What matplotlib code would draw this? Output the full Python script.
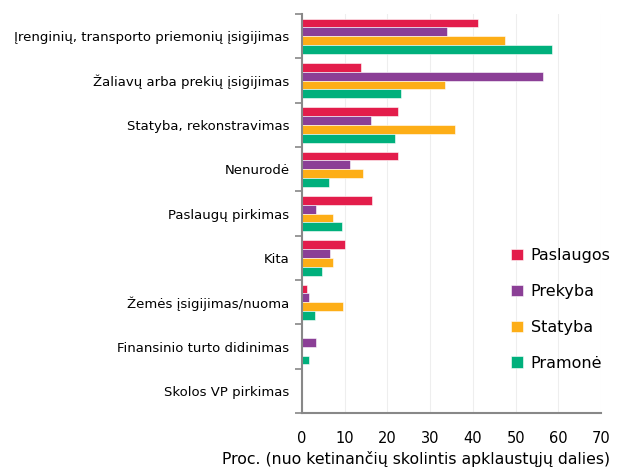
import matplotlib.pyplot as plt
import numpy as np

categories = ["Įrenginių, transporto priemonių įsigijimas",
              "Žaliavų arba prekių įsigijimas",
              "Statyba, rekonstravimas",
              "Nenurodė",
              "Paslaugų pirkimas",
              "Kita",
              "Žemės įsigijimas/nuoma",
              "Finansinio turto didinimas",
              "Skolos VP pirkimas"]
paslaugos = [41.3, 13.8, 22.5, 22.5, 16.3, 10.0, 1.2, 0, 0]
prekyba = [33.9, 56.5, 16.2, 11.3, 3.3, 6.5, 1.6, 3.3, 0]
statyba = [47.6, 33.4, 35.7, 14.3, 7.2, 7.2, 9.6, 0, 0]
pramone = [58.5, 23.1, 21.7, 6.3, 9.3, 4.6, 3.1, 1.6, 0]

series = [("Paslaugos", paslaugos, "#E31D4B"),
          ("Prekyba", prekyba, "#8B3F96"),
          ("Statyba", statyba, "#FDAE17"),
          ("Pramonė", pramone, "#00B07C")]

fig = plt.figure(figsize=(6.19, 4.69), dpi=100)
ax = fig.add_axes([0.488, 0.119, 0.483, 0.851])

y = np.arange(len(categories))
h = 0.2
for i, (name, vals, col) in enumerate(series):
    ax.barh(y - 0.3 + i * h, vals, height=h, color=col, label=name,
            edgecolor="white", linewidth=0.4)

ax.set_ylim(len(categories) - 0.5, -0.5)
ax.set_xlim(0, 70)
ax.set_xticks(range(0, 71, 10))
ax.set_yticks(y)
ax.set_yticklabels(categories, fontsize=9.5)
ax.set_yticks(np.arange(-0.5, len(categories), 1), minor=True)
ax.tick_params(axis="y", which="major", length=0, pad=9)
ax.tick_params(axis="y", which="minor", length=5, color="#888888", width=1.2)
ax.tick_params(axis="x", length=0, labelsize=10.5, pad=13)
ax.grid(axis="x", color="#eeeeee", linewidth=0.8)
ax.set_axisbelow(True)
for s in ["top", "right"]:
    ax.spines[s].set_visible(False)
for s in ["left", "bottom"]:
    ax.spines[s].set_color("#888888")
    ax.spines[s].set_linewidth(1.5)

ax.set_xlabel("Proc. (nuo ketinančių skolintis apklaustųjų dalies)", fontsize=11.3)
ax.xaxis.set_label_coords(0.381, -0.095)

ax.legend(loc="center left", bbox_to_anchor=(0.652, 0.26), frameon=False,
          fontsize=11.5, handlelength=0.7, handleheight=0.7, handletextpad=0.5,
          labelspacing=1.3)

plt.savefig("out.png", dpi=100)
